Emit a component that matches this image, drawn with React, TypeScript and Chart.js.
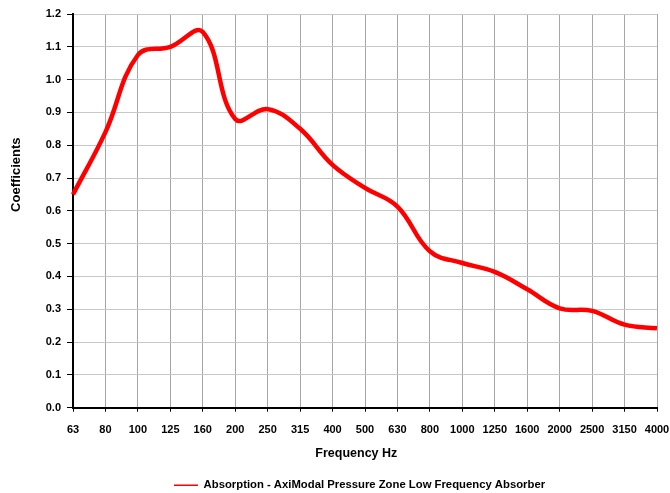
import React, { useEffect, useRef } from "react";
import { Chart, registerables } from "chart.js";

Chart.register(...registerables);

const frequencies = ["63", "80", "100", "125", "160", "200", "250", "315", "400", "500", "630", "800", "1000", "1250", "1600", "2000", "2500", "3150", "4000"];
const absorption = [0.65, 0.84, 1.075, 1.1, 1.145, 0.88, 0.91, 0.85, 0.74, 0.67, 0.613, 0.477, 0.441, 0.414, 0.361, 0.303, 0.295, 0.253, 0.242];
const seriesLabel = "Absorption - AxiModal Pressure Zone Low Frequency Absorber";
const xTitle = "Frequency Hz";
const yTitle = "Coefficients";
const yMin = 0;
const yMax = 1.2;
const yStep = 0.1;

const FONT = "'Liberation Sans', Arial, sans-serif";

const legendShift = {
  id: "legendShift",
  afterLayout(chart: any) {
    const lg = chart.legend;
    if (lg) {
      lg.top += 8;
      lg.bottom += 8;
      lg.left += 31;
      lg.right += 31;
    }
  },
};

export default function App() {
  const ref = useRef<HTMLCanvasElement | null>(null);

  useEffect(() => {
    if (!ref.current) return;
    const chart = new Chart(ref.current, {
      type: "line",
      data: {
        labels: frequencies,
        datasets: [
          {
            label: seriesLabel,
            data: absorption,
            borderColor: "#ff0000",
            backgroundColor: "#ff0000",
            borderWidth: 4.5,
            pointRadius: 0,
            tension: 0.4,
            fill: false,
          },
        ],
      },
      options: {
        responsive: false,
        animation: false,
        layout: { padding: { top: 14, right: 13, bottom: 0, left: 0 } },
        plugins: {
          tooltip: { enabled: false },
          legend: {
            position: "bottom",
            labels: {
              padding: 0,
              color: "#000",
              usePointStyle: true,
              pointStyleWidth: 24,
              font: { family: FONT, size: 11.3, weight: "bold" },
              generateLabels: (c: any) =>
                (Chart.defaults.plugins.legend.labels.generateLabels as any)(c).map((it: any) => ({
                  ...it,
                  pointStyle: "line",
                  lineWidth: 1.5,
                  strokeStyle: "#ff0000",
                })),
            },
          },
        },
        scales: {
          x: {
            type: "category",
            offset: false,
            afterFit: (s: any) => {
              s.height = 64;
              s.paddingRight = 10;
              s.paddingLeft = 0;
            },
            grid: {
              color: "#a6a6a6",
              lineWidth: 1,
              tickColor: "#000",
              tickLength: 4,
              drawOnChartArea: true,
            },
            border: { color: "#000", width: 2 },
            ticks: {
              color: "#000",
              padding: 12,
              maxRotation: 0,
              autoSkip: false,
              font: { family: FONT, size: 11, weight: "bold" },
            },
            title: {
              display: true,
              text: xTitle + "     ",
              color: "#000",
              padding: { top: 0, bottom: 10.5 },
              font: { family: FONT, size: 12.5, weight: "bold" },
            },
          },
          y: {
            min: yMin,
            max: yMax,
            afterFit: (s: any) => {
              s.width = 73;
            },
            grid: {
              color: "#c8c8c8",
              lineWidth: 1,
              tickColor: "#000",
              tickLength: 6,
            },
            border: { color: "#000", width: 2 },
            ticks: {
              stepSize: yStep,
              color: "#000",
              padding: 6,
              font: { family: FONT, size: 11, weight: "bold" },
              callback: (v: any) => Number(v).toFixed(1),
            },
            title: {
              display: true,
              text: " ".repeat(20) + yTitle,
              color: "#000",
              padding: { top: 9, bottom: 0 },
              font: { family: FONT, size: 13, weight: "bold" },
            },
          },
        },
      },
      plugins: [legendShift],
    } as any);
    return () => chart.destroy();
  }, []);

  return (
    <div style={{ position: "absolute", left: 0, top: 0, width: 670, height: 493, background: "#fff" }}>
      <canvas ref={ref} width={670} height={493} style={{ display: "block", width: 670, height: 493 }} />
    </div>
  );
}
